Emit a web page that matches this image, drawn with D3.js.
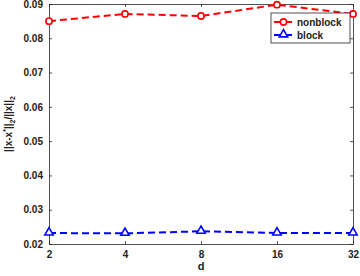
<!DOCTYPE html>
<html><head><meta charset="utf-8">
<script src="https://cdn.jsdelivr.net/npm/d3@7"></script>
<style>body{margin:0;background:#fff}svg{display:block}text{font-family:"Liberation Sans",Arial,sans-serif;font-weight:bold}</style>
</head><body><svg id="c" width="360" height="276"></svg>
<script>
const dValues = [2, 4, 8, 16, 32];
const nonblock = [0.0850, 0.0871, 0.0865, 0.0898, 0.0871];
const block = [0.0232, 0.0231, 0.0237, 0.0232, 0.0232];
const yTicks = [0.02, 0.03, 0.04, 0.05, 0.06, 0.07, 0.08, 0.09];
const seriesNames = ["nonblock", "block"];
const seriesColors = ["#ff0000", "#0000ff"];

const svg = d3.select("#c");
const L = 49, R = 353, T = 4, B = 244;
const x = d3.scaleLog().base(2).domain([2, 32]).range([L, R]);
const y = d3.scaleLinear().domain([0.02, 0.09]).range([B, T]);
const axisCol = "#262626";

const gx = svg.append("g").attr("transform", `translate(0,${B})`)
  .call(d3.axisBottom(x).tickValues(dValues).tickFormat(d3.format("d")).tickSizeInner(-3).tickSizeOuter(0).tickPadding(7));
const gxt = svg.append("g").attr("transform", `translate(0,${T})`)
  .call(d3.axisTop(x).tickValues(dValues).tickFormat("").tickSizeInner(-3).tickSizeOuter(0));
const gy = svg.append("g").attr("transform", `translate(${L},0)`)
  .call(d3.axisLeft(y).tickValues(yTicks).tickFormat(d3.format(".2f")).tickSizeInner(-3).tickSizeOuter(0).tickPadding(6));
const gyr = svg.append("g").attr("transform", `translate(${R},0)`)
  .call(d3.axisRight(y).tickValues(yTicks).tickFormat("").tickSizeInner(-3).tickSizeOuter(0));
[gx, gxt, gy, gyr].forEach(g => {
  g.select(".domain").attr("stroke", axisCol).attr("stroke-width", 0.8);
  g.selectAll(".tick line").attr("stroke", axisCol).attr("stroke-width", 0.8);
  g.selectAll("text").attr("fill", "#222").style("font-size", "10px");
});

svg.append("text").attr("x", (L + R) / 2).attr("y", 270).attr("text-anchor", "middle")
  .style("font-size", "11px").attr("fill", "#222").text("d");
const yl = svg.append("text").attr("transform", `translate(12,${(T + B) / 2}) rotate(-90)`)
  .attr("text-anchor", "middle").style("font-size", "10px").attr("fill", "#222");
yl.append("tspan").text("||x-x");
yl.append("tspan").attr("dy", -4).style("font-size", "7px").text("*");
yl.append("tspan").attr("dy", 4).text("||");
yl.append("tspan").attr("dy", 3).style("font-size", "7px").text("2");
yl.append("tspan").attr("dy", -3).text("/||x||");
yl.append("tspan").attr("dy", 3).style("font-size", "7px").text("2");

const data = [nonblock, block];
const line = d3.line().x((d, i) => x(dValues[i])).y(d => y(d));
data.forEach((s, k) => {
  svg.append("path").datum(s).attr("d", line).attr("fill", "none")
    .attr("stroke", seriesColors[k]).attr("stroke-width", 2).attr("stroke-dasharray", "7,4");
  const g = svg.append("g");
  s.forEach((v, i) => {
    if (k === 0) {
      g.append("circle").attr("cx", x(dValues[i])).attr("cy", y(v)).attr("r", 3.1)
        .attr("fill", "#fff").attr("stroke", seriesColors[k]).attr("stroke-width", 1.6);
    } else {
      g.append("path").attr("d", d3.symbol().type(d3.symbolTriangle).size(30)())
        .attr("transform", `translate(${x(dValues[i])},${y(v) - 0.5})`)
        .attr("fill", "#fff").attr("stroke", seriesColors[k]).attr("stroke-width", 1.6);
    }
  });
});

const lg = svg.append("g");
lg.append("rect").attr("x", 271).attr("y", 13).attr("width", 79).attr("height", 30)
  .attr("fill", "#fff").attr("stroke", axisCol).attr("stroke-width", 0.8);
seriesNames.forEach((n, k) => {
  const yy = 22 + k * 13;
  lg.append("line").attr("x1", 274).attr("x2", 293).attr("y1", yy).attr("y2", yy)
    .attr("stroke", seriesColors[k]).attr("stroke-width", 2).attr("stroke-dasharray", "7,4");
  if (k === 0) {
    lg.append("circle").attr("cx", 283.5).attr("cy", yy).attr("r", 3.1).attr("fill", "#fff")
      .attr("stroke", seriesColors[k]).attr("stroke-width", 1.6);
  } else {
    lg.append("path").attr("d", d3.symbol().type(d3.symbolTriangle).size(30)())
      .attr("transform", `translate(283.5,${yy - 0.5})`).attr("fill", "#fff")
      .attr("stroke", seriesColors[k]).attr("stroke-width", 1.6);
  }
  lg.append("text").attr("x", 297).attr("y", yy + 3.5).style("font-size", "10px").attr("fill", "#222").text(n);
});
</script></body></html>
